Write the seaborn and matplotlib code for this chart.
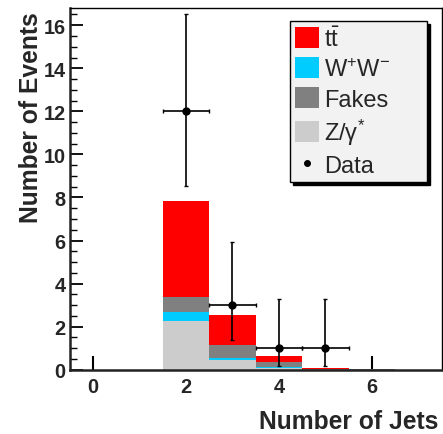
import numpy as np
import pandas as pd
import matplotlib
matplotlib.use("Agg")
import matplotlib.pyplot as plt
from matplotlib.ticker import MultipleLocator
from matplotlib.patches import Patch
from matplotlib.lines import Line2D
import seaborn as sns

sns.set_style("ticks")
plt.rcParams["font.family"] = ["Liberation Sans", "DejaVu Sans"]
plt.rcParams["mathtext.fontset"] = "custom"
plt.rcParams["mathtext.rm"] = "Liberation Sans"
plt.rcParams["mathtext.it"] = "Liberation Sans:italic"
plt.rcParams["mathtext.bf"] = "Liberation Sans:bold"

# Jet multiplicity bins
njets = [2, 3, 4, 5, 6]

# Expected backgrounds per bin
ttbar = [4.49, 1.37, 0.28, 0.05, 0.02]
ww = [0.40, 0.11, 0.03, 0.00, 0.00]
fakes = [0.70, 0.62, 0.25, 0.01, 0.02]
zgamma = [2.26, 0.44, 0.08, 0.00, 0.00]

# Observed events with asymmetric Poisson errors
data_x = [2, 3, 4, 5]
data_y = [12, 3, 1, 1]
data_err_lo = [3.46, 1.63, 0.83, 0.83]
data_err_hi = [4.53, 2.92, 2.30, 2.30]

labels = [r"$\mathrm{t\bar{t}}$", r"$\mathrm{W^{+}W^{-}}$", "Fakes", r"$\mathrm{Z/\gamma^{*}}$"]
colors = ["#ff0000", "#00ccff", "#808080", "#cccccc"]
palette = dict(zip(labels, colors))

df = pd.DataFrame({
    "njets": np.tile(njets, 4),
    "events": np.concatenate([ttbar, ww, fakes, zgamma]),
    "process": np.repeat(labels, len(njets)),
})

# seaborn puts the first hue level on top of the stack:
# top-to-bottom ttbar, fakes, WW, Z/gamma*
stack_order = [labels[0], labels[2], labels[1], labels[3]]

fig = plt.figure(figsize=(4.43, 4.35), dpi=100)
ax = fig.add_axes([0.157, 0.1478, 0.840, 0.8315])

sns.histplot(data=df, x="njets", weights="events", hue="process",
             hue_order=stack_order, palette=palette,
             multiple="stack", discrete=True, shrink=1, alpha=1,
             linewidth=0, element="bars", legend=False, ax=ax)

ax.errorbar(data_x, data_y, yerr=[data_err_lo, data_err_hi], xerr=0.5,
            fmt="o", color="black", ms=5, lw=1.2, capsize=1.5, zorder=5)

ax.set_xlim(-0.5, 7.5)
ax.set_ylim(0, 16.8)
ax.set_xticks([0, 2, 4, 6])
ax.yaxis.set_major_locator(MultipleLocator(2))
ax.yaxis.set_minor_locator(MultipleLocator(0.5))
ax.tick_params(axis="both", which="both", direction="in", top=False, right=False,
               color="black")
ax.tick_params(axis="x", which="major", length=10, width=1.5, pad=5,
               labelsize=14.4)
ax.tick_params(axis="y", which="major", length=9, width=1.3, pad=3,
               labelsize=14.4)
ax.tick_params(axis="y", which="minor", length=5, width=1.0)
ax.tick_params(axis="x", which="minor", length=0)
for lab in ax.get_xticklabels() + ax.get_yticklabels():
    lab.set_fontweight("bold")
for side in ["left", "bottom"]:
    ax.spines[side].set_linewidth(1.8)
    ax.spines[side].set_color("#222222")
for side in ["top", "right"]:
    ax.spines[side].set_linewidth(1.0)
    ax.spines[side].set_color("black")

ax.set_xlabel("")
ax.set_ylabel("")
fig.text(0.989, 0.0138, "Number of Jets", ha="right", va="baseline",
         fontsize=17.7, fontweight="bold")
fig.text(0.069, 0.972, "Number of Events", ha="center", va="top",
         rotation=90, fontsize=17.7, fontweight="bold")

handles = [Patch(facecolor=c, edgecolor="none") for c in colors]
handles.append(Line2D([], [], marker="o", color="black", ls="none", ms=4))
leg = ax.legend(handles, labels + ["Data"], loc="upper left", mode="expand",
                bbox_to_anchor=(0.592, 0.522, 0.368, 0.442), borderaxespad=0,
                fontsize=17, handlelength=1.02, handleheight=0.98,
                handletextpad=0.21, labelspacing=0.27, borderpad=0.22,
                fancybox=False, frameon=True,
                shadow={"color": "black", "alpha": 1})
leg.get_frame().set_facecolor("#f2f2f2")
leg.get_frame().set_edgecolor("black")
leg.get_frame().set_linewidth(1.0)
leg.get_frame().set_alpha(1)

fig.savefig("out.png", dpi=100)
